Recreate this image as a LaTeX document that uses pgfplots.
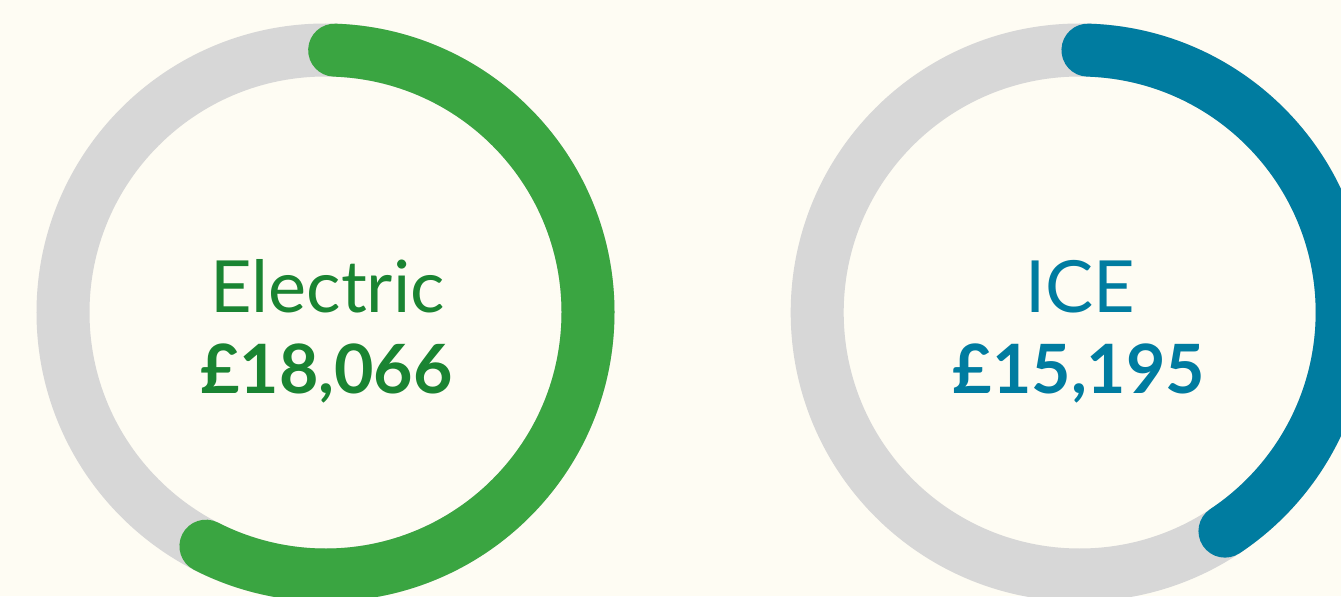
\documentclass[border=0pt]{standalone}
\usepackage{pgfplots}
\pgfplotsset{compat=1.18}
\usepackage{fontspec}
\setmainfont{Lato}
\definecolor{bgc}{HTML}{FEFCF3}
\definecolor{ringgray}{HTML}{D7D7D7}
\definecolor{evring}{HTML}{3AA541}
\definecolor{evtext}{HTML}{1A8432}
\definecolor{iceblue}{HTML}{007CA0}
% data: label, value, arc start angle, arc end angle (degrees)
\def\evval{18,066}\def\evstart{88}\def\evend{-117.1}
\def\iceval{15,195}\def\icestart{88.2}\def\iceend{-56.4}
\begin{document}
\begin{tikzpicture}
\begin{axis}[
  x=0.5pt, y=0.5pt,
  xmin=0, xmax=1341, ymin=0, ymax=596,
  hide axis, clip=true,
  scale only axis,
]
\coordinate (sw) at (axis cs:0,0);
\coordinate (ne) at (axis cs:1341,596);
\fill[bgc] (axis cs:0,0) rectangle (axis cs:1341,596);
% Electric
\draw[ringgray, line width=26.5pt] (axis cs:325.5,283.5) circle[radius=131.25pt];
\draw[evring, line width=26.5pt, line cap=round]
  (axis cs:325.5,283.5) ++(\evstart:131.25pt) arc[start angle=\evstart, end angle=\evend, radius=131.25pt];
\node[anchor=base, text=evtext, font=\fontsize{36}{42}\selectfont] at (axis cs:327.5,284) {Electric};
\node[anchor=base, text=evtext, font=\fontsize{34}{40}\selectfont\bfseries] at (axis cs:326.5,203) {£\evval};
% ICE
\draw[ringgray, line width=26.5pt] (axis cs:1079.7,283.5) circle[radius=131.25pt];
\draw[iceblue, line width=26.5pt, line cap=round]
  (axis cs:1079.7,283.5) ++(\icestart:131.25pt) arc[start angle=\icestart, end angle=\iceend, radius=131.25pt];
\node[anchor=base, text=iceblue, font=\fontsize{36}{42}\selectfont] at (axis cs:1080,284) {ICE};
\node[anchor=base, text=iceblue, font=\fontsize{34}{40}\selectfont\bfseries] at (axis cs:1079,203) {£\iceval};
\end{axis}
\pgfresetboundingbox
\path[use as bounding box] (sw) rectangle (ne);
\end{tikzpicture}
\end{document}
